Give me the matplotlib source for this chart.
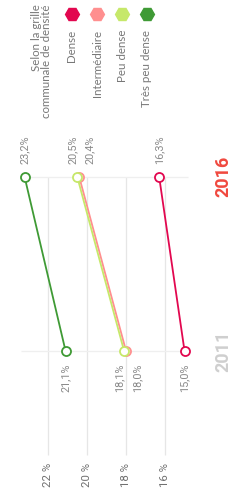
import matplotlib.pyplot as plt

# data
years = [2011, 2016]
series = ['Dense', 'Intermédiaire', 'Peu dense', 'Très peu dense']
dense = [15.0, 16.3]
intermediaire = [18.0, 20.4]
peu_dense = [18.1, 20.5]
tres_peu_dense = [21.1, 23.2]
ticks = [22, 20, 18, 16]

colors = {'Dense': '#e2074f', 'Intermédiaire': '#ff8f8f',
          'Peu dense': '#c6e86a', 'Très peu dense': '#3f9a35'}
values = {'Dense': dense, 'Intermédiaire': intermediaire,
          'Peu dense': peu_dense, 'Très peu dense': tres_peu_dense}
# label nudges (px) so the overlapping pair stays readable
nudge = {'Dense': 0, 'Intermédiaire': 11, 'Peu dense': -5, 'Très peu dense': 0}

plt.rcParams['font.family'] = ['Roboto', 'DejaVu Sans']
grey = '#8a8a8a'

fig = plt.figure(figsize=(2.44, 4.97), dpi=100)
ax = fig.add_axes([0, 0, 1, 1])
# chart is drawn turned a quarter turn: percent runs right-to-left, years bottom-to-top
ax.set_xlim(24.46, 11.95)
ax.set_ylim(2006.80, 2021.08)
ax.axis('off')

# grid
ax.vlines(ticks, 2008.0, 2016, color='#e6e6e6', lw=0.9, zorder=0)
ax.hlines(years, 23.4, 14.8, color='#efefef', lw=0.9, zorder=0)
for t in ticks:
    ax.text(t, 0.044, f'{t} %', transform=ax.get_xaxis_transform(), rotation=90,
            ha='center', va='center', fontsize=8.2, color='#707070')

# lines
for name in series:
    v = values[name]
    ax.plot(v, years, color=colors[name], lw=1.3, marker='o', ms=6.5,
            mfc='white', mec=colors[name], mew=1.3, zorder=3)
    for x, y in zip(v, years):
        dy = 9 if y == years[1] else -9
        ax.annotate(f'{x:.1f}'.replace('.', ',') + '%', (x, y),
                    xytext=(nudge[name] * 0.72, dy), textcoords='offset points',
                    rotation=90, ha='center', va='bottom' if dy > 0 else 'top',
                    fontsize=7.8, color=grey)

# year labels
ax.text(0.914, years[1], str(years[1]), transform=ax.get_yaxis_transform(),
        rotation=90, ha='center', va='center', fontsize=13, fontweight='bold', color='#f0483e')
ax.text(0.914, years[0], str(years[0]), transform=ax.get_yaxis_transform(),
        rotation=90, ha='center', va='center', fontsize=13, fontweight='bold', color='#cfcfcf')

# legend
fig.text(41.5 / 244, 1 - 4 / 497, 'Selon la grille\ncommunale de densité', rotation=90,
         ha='center', va='top', multialignment='right', fontsize=8.3, color='#777777',
         family=['Lato', 'DejaVu Sans'], linespacing=1.0)
for i, name in enumerate(series):
    lx = (72 + 25 * i) / 244
    fig.lines.append(plt.Line2D([lx], [1 - 14 / 497], transform=fig.transFigure,
                                marker='H', ms=10, color=colors[name], ls='none'))
    fig.text(lx, 1 - 30 / 497, name, rotation=90, ha='center', va='top',
             fontsize=8.3, color='#777777', family=['Lato', 'DejaVu Sans'])

fig.savefig('out.png', dpi=100, facecolor='white')
